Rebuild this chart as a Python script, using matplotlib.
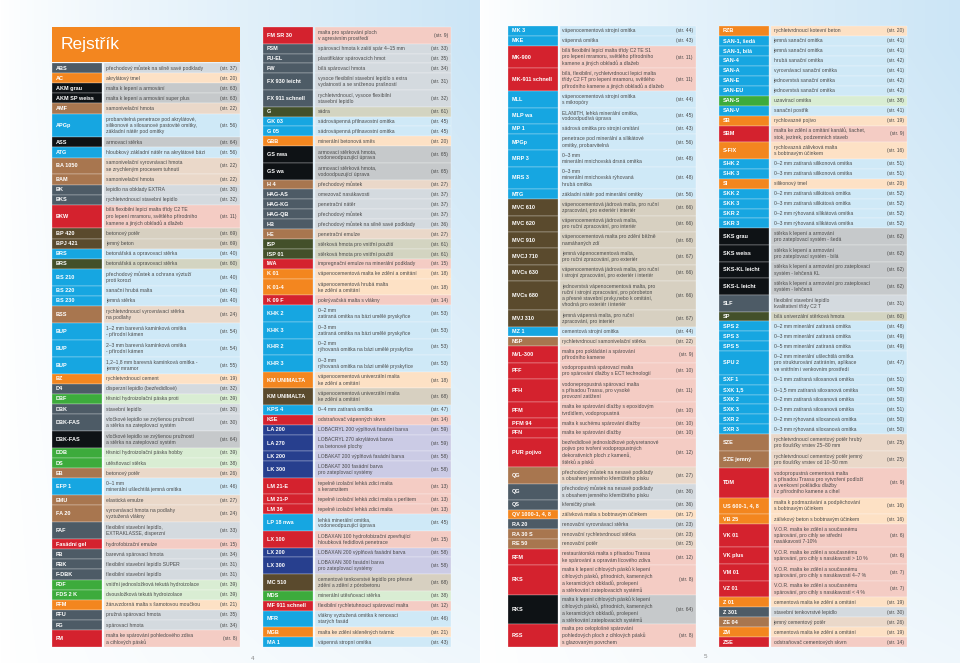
import numpy as np
import matplotlib
matplotlib.use("Agg")
import matplotlib.pyplot as plt

plt.rcParams['font.family'] = ['Liberation Sans', 'DejaVu Sans']

# ---------------- data ----------------
codes_1 = ["ABS", "AC", "AKM grau", "AKM SP weiss", "AMF", "APGp", "ASS", "ATG", "BA 1050", "BAM",
           "BK", "BKS", "BKW", "BP 420", "BPJ 421", "BRS", "BRS", "BS 210", "BS 220", "BS 230",
           "BSS", "BUP", "BUP", "BUP", "BZ", "D4", "DBF", "DBK", "DBK-FAS", "DBK-FAS",
           "DDB", "DS", "EB", "EFP 1", "EMU", "FA 20", "FAF", "Fasádní gel", "FB", "FBK",
           "F-DBK", "FDF", "FDS 2 K", "FFM", "FFU", "FG", "FM"]
descs_1 = ["přechodový můstek na silně savé podklady", "akrylátový tmel", "malta k lepení a armování",
           "malta k lepení a armování super plus", "samonivelační hmota",
           "probarvitelná penetrace pod akrylátové,\nsilikonové a silosanové pastovité omítky,\nzákladní nátěr pod omítky",
           "armovací stěrka", "hloubkový základní nátěr na akrylátové bázi",
           "samonivelační vyrovnávací hmota\nse zrychleným procesem tuhnutí", "samonivelační hmota",
           "lepidlo na obklady EXTRA", "rychletvrdnoucí stavební lepidlo",
           "bílá flexibilní lepicí malta třídy C2 TE\npro lepení mramoru, světlého přírodního\nkamene a jiných obkladů a dlažeb",
           "betonový potěr", "jemný beton", "betonářská a opravovací stěrka", "betonářská a opravovací stěrka",
           "přechodový můstek a ochrana výztuží\nproti korozi", "sanační hrubá malta", "jemná stěrka",
           "rychletvrdnoucí vyrovnávací stěrka\nna podlahy", "1–2 mm barevná kamínková omítka\n- přírodní kámen",
           "2–3 mm barevná kamínková omítka\n- přírodní kámen", "1,2–1,8 mm barevná kamínková omítka -\njemný mramor",
           "rychletvrdnoucí cement", "disperzní lepidlo (bezředidlové)", "těsnicí hydroizolační páska proti",
           "stavební lepidlo", "vločkové lepidlo se zvýšenou pružností\na stěrka na zateplovací systém",
           "vločkové lepidlo se zvýšenou pružností\na stěrka na zateplovací systém",
           "těsnicí hydroizolační páska hobby", "utěsňovací stěrka", "betonový potěr",
           "0–1 mm\nminerální ušlechtilá jemná omítka", "elastická emulze",
           "vyrovnávací hmota na podlahy\nvyztužená vlákny", "flexibilní stavební lepidlo,\nEXTRAKLASSE, disperzní",
           "hydrofobizační emulze", "barevná spárovací hmota", "flexibilní stavební lepidlo SUPER",
           "flexibilní stavební lepidlo", "vnitřní jednosložková tekutá hydroizolace",
           "dvousložková tekutá hydroizolace", "žáruvzdorná malta s šamotovou moučkou",
           "pružná spárovací hmota", "spárovací hmota", "malta ke spárování pohledového zdiva\na cihlových pásků"]
pages_1 = [37, 20, 63, 63, 22, 56, 64, 56, 22, 22, 30, 32, 11, 69, 69, 40, 60, 40, 40, 40,
           24, 54, 54, 55, 19, 32, 39, 30, 30, 64, 39, 38, 26, 46, 27, 24, 33, 15, 34, 31,
           31, 39, 39, 21, 35, 34, 8]
groups_1 = ["slate", "orange", "black", "black", "brown", "cyan", "black", "cyan", "brown", "brown",
            "slate", "slate", "red", "dkbrown", "dkbrown", "cyan", "olive", "cyan", "cyan", "cyan",
            "brown", "cyan", "cyan", "cyan", "orange", "slate", "green", "slate", "slate", "black",
            "green", "green", "brown", "cyan", "brown", "brown", "slate", "red", "slate", "slate",
            "slate", "green", "green", "orange", "slate", "slate", "red"]

codes_2 = ["FM SR 30", "FSM", "FU-EL", "FW", "FX 930 leicht", "FX 911 schnell", "G", "GK 03", "G 05", "GBB",
           "GS nwa", "GS wa", "H 4", "HAG-AS", "HAG-KG", "HAG-QB", "HB", "HE", "ISP", "ISP 01",
           "IWA", "K 01", "K 01-4", "K 09 F", "KHK 2", "KHK 3", "KHR 2", "KHR 3", "KM UNIMALTA", "KM UNIMALTA",
           "KPS 4", "KSE", "LA 200", "LA 270", "LK 200", "LK 300", "LM 21-E", "LM 21-P", "LM 36", "LP 18 nwa",
           "LX 100", "LX 200", "LX 300", "MC 510", "MDS", "MF 911 schnell", "MFR", "MGB", "MA 1"]
descs_2 = ["malta pro spárování ploch\nv agresivním prostředí", "spárovací hmota k zalití spár 4–15 mm",
           "plastifikátor spárovacích hmot", "bílá spárovací hmota",
           "vysoce flexibilní stavební lepidlo s extra\nvydatností a se sníženou prašností",
           "rychletvrdnoucí, vysoce flexibilní\nstavební lepidlo", "sádra",
           "sádrovápenná přilnavostní omítka", "sádrovápenná přilnavostní omítka", "minerální betonová směs",
           "armovací stěrková hmota,\nvodoneodpuzující úprava", "armovací stěrková hmota,\nvodoodpuzující úprava",
           "přechodový můstek", "omezovač nasákavosti", "penetrační nátěr", "přechodový můstek",
           "přechodový můstek na silně savé podklady", "penetrační emulze",
           "stěrková hmota pro vnitřní použití", "stěrková hmota pro vnitřní použití",
           "impregnační emulze na minerální podklady", "vápenocementová malta ke zdění a omítání",
           "vápenocementová hrubá malta\nke zdění a omítání", "pokrývačská malta s vlákny",
           "0–2 mm\nzatíraná omítka na bázi umělé pryskyřice", "0–3 mm\nzatíraná omítka na bázi umělé pryskyřice",
           "0–2 mm\nrýhovaná omítka na bázi umělé pryskyřice", "0–3 mm\nrýhovaná omítka na bázi umělé pryskyřice",
           "vápenocementová univerzální malta\nke zdění a omítání", "vápenocementová univerzální malta\nke zdění a omítání",
           "0–4 mm zatíraná omítka", "odstraňovač vápenných skvrn", "LOBACRYL 200 výplňová fasádní barva",
           "LOBACRYL 270 akrylátová barva\nna betonové plochy", "LOBAKAT 200 výplňová fasádní barva",
           "LOBAKAT 300 fasádní barva\npro zateplovací systémy", "tepelně izolační lehká zdicí malta\ns keramzitem",
           "tepelně izolační lehká zdicí malta s perlitem", "tepelně izolační lehká zdicí malta",
           "lehká minerální omítka,\nvodoneodpuzující úprava",
           "LOBAXAN 100 hydrofobizační zpevňující\nhloubková ředidlová penetrace",
           "LOBAXAN 200 výplňová fasádní barva", "LOBAXAN 300 fasádní barva\npro zateplovací systémy",
           "cementové tenkovrstvé lepidlo pro přesné\nzdění a zdění z pórobetonu", "minerální utěsňovací stěrka",
           "flexibilní rychletuhnoucí spárovací malta", "vlákny vyztužená omítka k renovaci\nstarých fasád",
           "malta ke zdění skleněných tvárnic", "vápenná stropní omítka"]
pages_2 = [9, 33, 35, 34, 31, 32, 61, 45, 45, 20, 65, 65, 27, 37, 37, 37, 36, 27, 61, 61,
           15, 18, 18, 14, 53, 53, 53, 53, 18, 68, 47, 14, 59, 59, 58, 58, 13, 13, 13, 45,
           15, 58, 58, 68, 38, 12, 46, 21, 43]
groups_2 = ["red", "slate", "slate", "slate", "slate", "slate", "olive", "cyan", "cyan", "orange",
            "black", "black", "brown", "slate", "slate", "slate", "slate", "brown", "olive", "olive",
            "red", "orange", "orange", "red", "cyan", "cyan", "cyan", "cyan", "orange", "dkbrown",
            "cyan", "red", "navy", "navy", "navy", "navy", "red", "red", "red", "cyan",
            "red", "navy", "navy", "dkbrown", "green", "red", "cyan", "orange", "cyan"]

codes_3 = ["MK 3", "MKE", "MK-900", "MK-911 schnell", "MLL", "MLP wa", "MP 1", "MPGp", "MRP 3", "MRS 3",
           "MTG", "MVC 610", "MVC 620", "MVC 910", "MVCJ 710", "MVCs 630", "MVCs 680", "MVJ 310", "MZ 1", "NSP",
           "NVL-300", "PFF", "PFH", "PFM", "PFM 94", "PFN", "PUR pojivo", "QG", "QG", "QS",
           "QV 1000-1, 4, 8", "RA 20", "RA 30 S", "RE 50", "RFM", "RKS", "RKS", "RSS"]
descs_3 = ["vápenocementová strojní omítka", "vápenná omítka",
           "bílá flexibilní lepicí malta třídy C2 TE S1\npro lepení mramoru, světlého přírodního\nkamene a jiných obkladů a dlažeb",
           "bílá, flexibilní, rychletvrdnoucí lepicí malta\ntřídy C2 FT pro lepení mramoru, světlého\npřírodního kamene a jiných obkladů a dlažeb",
           "vápenocementová strojní omítka\ns mikropóry", "ELANITH, lehká minerální omítka,\nvodoodpudivá úprava",
           "sádrová omítka pro strojní omítání", "penetrace pod minerální a silikátové\nomítky, probarvitelná",
           "0–3 mm\nminerální mnichovská drsná omítka", "0–3 mm\nminerální mnichovská rýhovaná\nhrubá omítka",
           "základní nátěr pod minerální omítky",
           "vápenocementová jádrová malta, pro ruční\nzpracování, pro exteriér i interiér",
           "vápenocementová jádrová malta,\npro ruční zpracování, pro interiér",
           "vápenocementová malta pro zdění běžně\nnamáhaných zdí",
           "jemná vápenocementová malta,\npro ruční zpracování, pro exteriér",
           "vápenocementová jádrová malta, pro ruční\ni strojní zpracování, pro exteriér i interiér",
           "jednovrstvá vápenocementová malta, pro\nruční i strojní zpracování, pro pórobeton\na přesné stavební prvky,nebo k omítání,\nvhodná pro exteriér i interiér",
           "jemná vápenná malta, pro ruční\nzpracování, pro interiér", "cementová strojní omítka",
           "rychletvrdnoucí samonivelační stěrka", "malta pro pokládání a spárování\npřírodního kamene",
           "vodopropustná spárovací malta\npro spárování dlažby s ECT technologií",
           "vodonepropustná spárovací malta\ns přísadou Trassu, pro vysoké\nprovozní zatížení",
           "malta ke spárování dlažby s epoxidovým\ntvrdidlem, vodopropustná",
           "malta k suchému spárování dlažby", "malta ke spárování dlažby",
           "bezředidlové jednosložkové polyuretanové\npojivo pro tvoření vodopropustných\ndekorativních ploch z kamenů,\nštěrků a písků",
           "přechodový můstek na nesavé podklady\ns obsahem jemného křemičitého písku",
           "přechodový můstek na nesavé podklady\ns obsahem jemného křemičitého písku",
           "křemičitý písek", "zálivková malta s bobtnavým účinkem", "renovační vyrovnávací stěrka",
           "renovační rychletvrdnoucí stěrka", "renovační potěr",
           "restaurátorská malta s přísadou Trassu\nke spárování a opravám lícového zdiva",
           "malta k lepení cihlových pásků k lepení\ncihlových pásků, přírodních, kamenných\na keramických obkladů, prolepení\na stěrkování zateplovacích systémů",
           "malta k lepení cihlových pásků k lepení\ncihlových pásků, přírodních, kamenných\na keramických obkladů, prolepení\na stěrkování zateplovacích systémů",
           "malta pro celoplošné spárování\npohledových ploch z cihlových pásků\ns glazovaným povrchem"]
pages_3 = [44, 43, 11, 11, 44, 45, 43, 56, 48, 48, 56, 66, 66, 68, 67, 66, 66, 67, 44, 22,
           9, 10, 11, 10, 10, 10, 12, 27, 36, 36, 17, 23, 23, 25, 12, 8, 64, 8]
groups_3 = ["cyan", "cyan", "red", "red", "cyan", "cyan", "cyan", "cyan", "cyan", "cyan",
            "cyan", "dkbrown", "dkbrown", "dkbrown", "dkbrown", "dkbrown", "dkbrown", "dkbrown", "cyan", "brown",
            "red", "red", "red", "red", "red", "red", "red", "brown", "slate", "slate",
            "orange", "slate", "brown", "brown", "red", "red", "black", "red"]

codes_4 = ["RZB", "SAN-1, šedá", "SAN-1, bílá", "SAN-4", "SAN-A", "SAN-E", "SAN-EU", "SAN-S", "SAN-V", "SB",
           "SBM", "S-FIX", "SHK 2", "SHK 3", "SI", "SKK 2", "SKK 3", "SKR 2", "SKR 3", "SKS grau",
           "SKS weiss", "SKS-KL leicht", "SKS-L leicht", "SLF", "SP", "SPS 2", "SPS 3", "SPS 5", "SPU 2", "SXF 1",
           "SXK 1,5", "SXK 2", "SXK 3", "SXR 2", "SXR 3", "SZE", "SZE jemný", "TDM", "US 600-1, 4, 8", "VB 25",
           "VK 01", "VK plus", "VM 01", "VZ 01", "Z 01", "Z 301", "ZE 04", "ZM", "ZSE"]
descs_4 = ["rychletvrdnoucí kotevní beton", "jemná sanační omítka", "jemná sanační omítka", "hrubá sanační omítka",
           "vyrovnávací sanační omítka", "jednovrstvá sanační omítka", "jednovrstvá sanační omítka",
           "uzavírací omítka", "sanační postřik", "rychlovazné pojivo",
           "malta ke zdění a omítání kanálů, šachet,\nstok, jezírek, podzemních staveb",
           "rychlovazná zálivková malta\ns bobtnavým účinkem",
           "0–2 mm zatíraná silikonová omítka", "0–3 mm zatíraná silikonová omítka", "silikonový tmel",
           "0–2 mm zatíraná silikátová omítka", "0–3 mm zatíraná silikátová omítka",
           "0–2 mm rýhovaná silikátová omítka", "0–3 mm rýhovaná silikátová omítka",
           "stěrka k lepení a armování\npro zateplovací systém - šedá",
           "stěrka k lepení a armování\npro zateplovací systém - bílá",
           "stěrka k lepení a armování pro zateplovací\nsystém - lehčená KL",
           "stěrka k lepení a armování pro zateplovací\nsystém - lehčená",
           "flexibilní stavební lepidlo\nkvalitativní třídy C2 T", "bílá univerzální stěrková hmota",
           "0–2 mm minerální zatíraná omítka", "0–3 mm minerální zatíraná omítka", "0–5 mm minerální zatíraná omítka",
           "0–2 mm minerální ušlechtilá omítka\npro strukturování zatíráním, aplikace\nve vnitřním i venkovním prostředí",
           "0–1 mm zatíraná siloxanová omítka", "0–1,5 mm zatíraná siloxanová omítka",
           "0–2 mm zatíraná siloxanová omítka", "0–3 mm zatíraná siloxanová omítka",
           "0–2 mm rýhovaná siloxanová omítka", "0–3 mm rýhovaná siloxanová omítka",
           "rychletvrdnoucí cementový potěr hrubý\npro tloušťky vrstev 25–80 mm",
           "rychletvrdnoucí cementový potěr jemný\npro tloušťky vrstev od 10–50 mm",
           "vodopropustná cementová malta\ns přísadou Trassu pro vytvoření podloží\na venkovní pokládku dlažby\ni z přírodního kamene a cihel",
           "malta k podmazávání a podpěchování\ns bobtnavým účinkem", "zálivkový beton s bobtnavým účinkem",
           "V.O.R. malta ke zdění a současnému\nspárování, pro cihly se střední\nnasákavostí 7-10%",
           "V.O.R. malta ke zdění a současnému\nspárování, pro cihly s nasákavostí > 10 %",
           "V.O.R. malta ke zdění a současnému\nspárování, pro cihly s nasákavostí 4–7 %",
           "V.O.R. malta ke zdění a současnému\nspárování, pro cihly s nasákavostí < 4 %",
           "cementová malta ke zdění a omítání", "stavební tenkovrstvé lepidlo", "jemný cementový potěr",
           "cementová malta ke zdění a omítání", "odstraňovač cementových skvrn"]
pages_4 = [20, 41, 41, 42, 41, 42, 42, 38, 41, 19, 9, 16, 51, 51, 20, 52, 52, 52, 52, 62,
           62, 62, 62, 31, 60, 48, 49, 49, 47, 51, 50, 50, 51, 50, 50, 25, 25, 9, 16, 16,
           6, 6, 7, 7, 19, 30, 26, 19, 14]
groups_4 = ["orange", "cyan", "cyan", "cyan", "cyan", "cyan", "cyan", "green", "cyan", "orange",
            "red", "orange", "cyan", "cyan", "orange", "cyan", "cyan", "cyan", "cyan", "black",
            "black", "black", "black", "slate", "olive", "cyan", "cyan", "cyan", "cyan", "cyan",
            "cyan", "cyan", "cyan", "cyan", "cyan", "brown", "brown", "red", "orange", "orange",
            "red", "red", "red", "red", "orange", "slate", "brown", "orange", "red"]

title = "Rejstřík"
page_numbers = ["4", "5"]

# ---------------- style ----------------
PALETTE = {
    "slate":   ("#4d5b66", "#d4dadf"),
    "orange":  ("#f3861f", "#fde1c5"),
    "black":   ("#0e1215", "#c6c9cb"),
    "brown":   ("#a8764f", "#ead8c9"),
    "cyan":    ("#16a6e1", "#cfe9f7"),
    "red":     ("#d4222e", "#f4ccc4"),
    "dkbrown": ("#5a4a2d", "#d7d0c1"),
    "olive":   ("#43502a", "#d3d4c1"),
    "green":   ("#3dab3c", "#d9edd3"),
    "navy":    ("#273f8e", "#cbcbe5"),
}

W, H = 960, 663
fig = plt.figure(figsize=(W / 100, H / 100), dpi=100)
ax = fig.add_axes([0, 0, 1, 1])
ax.set_xlim(0, W)
ax.set_ylim(H, 0)
ax.axis('off')

# background gradient (per page)
xx = np.arange(W)
xr = np.where(xx < W / 2, xx / (W / 2), (xx - W / 2) / (W / 2))
yr = np.arange(H)[:, None] / H
t = np.clip(xr[None, :] ** 0.8, 0, 1) * np.clip(1.05 - 0.75 * yr, 0, 1)
light = np.array([0.80, 0.90, 0.965])
white = np.array([1.0, 1.0, 1.0])
bg = white[None, None, :] * (1 - t[..., None]) + light[None, None, :] * t[..., None]
ax.imshow(bg, extent=(0, W, H, 0), aspect='auto', zorder=0)

CODE_W = 50
TOTAL_W = 188
GAP = 1.5
SEP = (1, 1, 1, 0.55)


def draw_column(x0, top, bottom, codes, descs, pages, groups):
    nlines = np.array([d.count("\n") + 1 for d in descs])
    raw = 3.3 + 6.7 * nlines
    h = raw * (bottom - top) / raw.sum()
    y0 = top + np.concatenate([[0], np.cumsum(h)[:-1]])
    yc = y0 + h / 2
    code_c = [PALETTE[g][0] for g in groups]
    desc_c = [PALETTE[g][1] for g in groups]
    ax.barh(yc, CODE_W, left=x0, height=h, color=code_c, edgecolor=SEP, linewidth=0.35, zorder=2)
    ax.barh(yc, TOTAL_W - CODE_W - GAP, left=x0 + CODE_W + GAP, height=h, color=desc_c,
            edgecolor=SEP, linewidth=0.35, zorder=2)
    for c, d, p, y in zip(codes, descs, pages, yc):
        ax.text(x0 + 4, y, c, color='white', fontsize=4.0, fontweight='bold',
                ha='left', va='center', zorder=3)
        ax.text(x0 + CODE_W + GAP + 3, y, d, color='#4a4a4a', fontsize=3.6,
                ha='left', va='center', linespacing=1.3, zorder=3)
        ax.text(x0 + TOTAL_W - 3, y, f"(str. {p})", color='#4a4a4a', fontsize=3.6,
                ha='right', va='center', zorder=3)


# header
ax.barh(44.5, TOTAL_W, left=52, height=35, color=PALETTE["orange"][0], zorder=2)
ax.text(61, 45, title, color='white', fontsize=12.5, ha='left', va='center', zorder=3)

draw_column(52, 63, 647, codes_1, descs_1, pages_1, groups_1)
draw_column(263, 27, 647, codes_2, descs_2, pages_2, groups_2)
draw_column(508, 26, 647, codes_3, descs_3, pages_3, groups_3)
draw_column(719, 26, 647, codes_4, descs_4, pages_4, groups_4)

ax.text(253, 659, page_numbers[0], color='#888888', fontsize=4.5, ha='center', va='center')
ax.text(705, 656, page_numbers[1], color='#888888', fontsize=4.5, ha='center', va='center')

fig.savefig("out.png", dpi=100)
